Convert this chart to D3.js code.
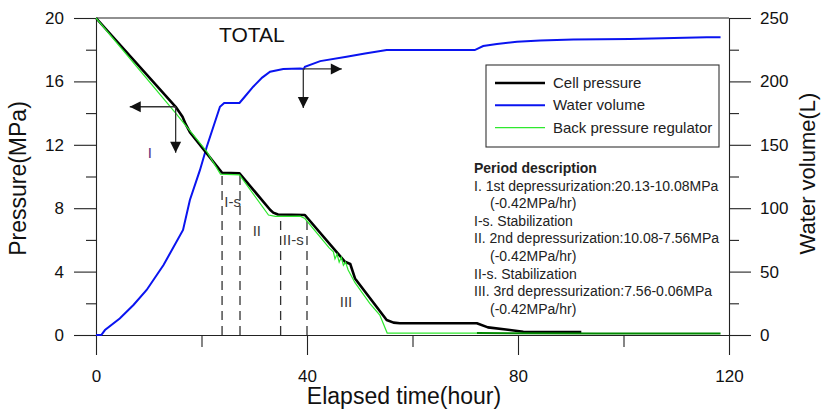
<!DOCTYPE html>
<html>
<head>
<meta charset="utf-8">
<script src="https://cdn.jsdelivr.net/npm/d3@7"></script>
<style>
  body { margin: 0; background: #fff; }
  svg { font-family: 'Liberation Sans', Arial, sans-serif; }
</style>
</head>
<body>
<svg class="chart"></svg>
<script>
//Chart data
const cellT = [0, 15.1, 16.4, 17.0, 17.8, 23.9, 27.2, 33.0, 33.6, 34.5, 39.6, 47.2, 48.2, 49.1, 55.1, 56.4, 57.6, 72.2, 74.3, 77.7, 81, 92];
const cellP = [20, 14.4, 13.77, 13.3, 12.8, 10.24, 10.2, 7.9, 7.72, 7.6, 7.57, 4.62, 4.48, 3.57, 0.95, 0.78, 0.74, 0.74, 0.48, 0.35, 0.2, 0.18];

const bprT = [0, 15.1, 21, 23.6, 27.2, 32.7, 34.0, 38.7, 39.6, 44.2, 45.0, 45.3, 45.7, 46.1, 46.5, 46.9, 47.3, 47.8, 49.1, 51.9, 53.8, 55.2, 72.2, 95, 118.4];
const bprP = [20, 14.0, 11.57, 10.15, 10.1, 7.57, 7.48, 7.5, 7.35, 5.5, 5.25, 4.8, 5.1, 4.6, 4.9, 4.4, 4.6, 4.1, 3.3, 2.0, 1.26, 0.12, 0.12, 0.1, 0.09];

const waterT = [0, 1.0, 1.7, 4.5, 7.1, 9.6, 12.8, 16.5, 17.8, 19.7, 21, 23.5, 24.3, 27.2, 28.2, 29.8, 31.5, 33, 35.5, 38.7, 39.4, 39.6, 42.5, 47.5, 51, 55.1, 71.8, 73.4, 76, 79.8, 84.2, 90.5, 101.2, 115.8, 118.4];
const waterV = [0, 0, 3.9, 13, 23.7, 35.5, 55.2, 82.8, 106.5, 130, 148.5, 180, 183, 183, 187.9, 195.8, 203, 207.6, 209.8, 210.2, 209.8, 211.6, 216, 219.4, 222, 224.7, 224.7, 227.9, 229.5, 231.3, 232.2, 233, 233.5, 234.8, 234.8];

//Ticks
const timeTicks = [0, 40, 80, 120];
const timeMinor = [20, 60, 100];
const pressureTicks = [0, 4, 8, 12, 16, 20];
const pressureMinor = [2, 6, 10, 14, 18];
const volumeTicks = [0, 50, 100, 150, 200, 250];
const volumeMinor = [25, 75, 125, 175, 225];

//Stage boundaries and labels
const stageBoundT = [23.9, 27.3, 35.0, 40.0];
const stageBoundP = [10.2, 10.2, 7.57, 7.57];
const stageLabels = ['I', 'I-s', 'II', 'II-s', 'III'];
const stageLabelT = [10.2, 25.9, 30.5, 37.4, 47.4];
const stageLabelP = [11.5, 8.4, 6.6, 6.05, 2.08];

const legendLabels = ['Cell pressure', 'Water volume', 'Back pressure regulator'];
const periodLines = [
  'Period description',
  'I. 1st depressurization:20.13-10.08MPa',
  '(-0.42MPa/hr)',
  'I-s. Stabilization',
  'II. 2nd depressurization:10.08-7.56MPa',
  '(-0.42MPa/hr)',
  'II-s. Stabilization',
  'III. 3rd depressurization:7.56-0.06MPa',
  '(-0.42MPa/hr)'
];

const width = 822;
const height = 412;
const axisColor = '#222';

const svg = d3.select('.chart').attr('width', width).attr('height', height);

//Scales
const x = d3.scaleLinear().domain([0, 120]).range([96, 729]);
const yP = d3.scaleLinear().domain([0, 20]).range([335, 18]);
const yV = d3.scaleLinear().domain([0, 250]).range([335, 18]);

//Axes
function styleAxis(g) {
  g.selectAll('path, line').attr('stroke', axisColor).attr('stroke-width', 1.1);
  g.selectAll('text').attr('fill', '#111').style('font-size', '17px').style('font-family', 'Liberation Sans, Arial, sans-serif');
}

svg.append('g')
  .attr('transform', 'translate(96,0)')
  .call(d3.axisLeft(yP).tickValues(pressureTicks).tickSize(22).tickSizeOuter(0).tickPadding(10))
  .call(styleAxis);
svg.append('g')
  .attr('transform', 'translate(96,0)')
  .call(d3.axisLeft(yP).tickValues(pressureMinor).tickSize(10).tickFormat(''))
  .call(g => g.select('.domain').remove())
  .call(styleAxis);

svg.append('g')
  .attr('transform', 'translate(729,0)')
  .call(d3.axisRight(yV).tickValues(volumeTicks).tickSize(22).tickSizeOuter(0).tickPadding(9))
  .call(styleAxis);
svg.append('g')
  .attr('transform', 'translate(729,0)')
  .call(d3.axisRight(yV).tickValues(volumeMinor).tickSize(10).tickFormat(''))
  .call(g => g.select('.domain').remove())
  .call(styleAxis);

svg.append('g')
  .attr('transform', 'translate(0,335)')
  .call(d3.axisBottom(x).tickValues(timeTicks).tickSize(20).tickSizeOuter(0).tickPadding(15))
  .call(styleAxis);
svg.append('g')
  .attr('transform', 'translate(0,335)')
  .call(d3.axisBottom(x).tickValues(timeMinor).tickSize(12).tickFormat(''))
  .call(g => g.select('.domain').remove())
  .call(styleAxis);

//Top frame line
svg.append('line')
  .attr('x1', x(0)).attr('x2', x(120))
  .attr('y1', yP(20)).attr('y2', yP(20))
  .attr('stroke', axisColor).attr('stroke-width', 1.1);

//Axis titles
svg.append('text')
  .attr('transform', `translate(26,${(yP(0) + yP(20)) / 2 + 2}) rotate(-90)`)
  .attr('text-anchor', 'middle')
  .style('font-size', '23px')
  .attr('fill', '#111')
  .text('Pressure(MPa)');
svg.append('text')
  .attr('transform', `translate(815,${(yV(0) + yV(250)) / 2 - 3}) rotate(-90)`)
  .attr('text-anchor', 'middle')
  .style('font-size', '22px')
  .attr('fill', '#111')
  .text('Water volume(L)');
svg.append('text')
  .attr('x', 404).attr('y', 404)
  .attr('text-anchor', 'middle')
  .style('font-size', '23px')
  .attr('fill', '#111')
  .text('Elapsed time(hour)');

svg.append('text')
  .attr('x', 219).attr('y', 42)
  .style('font-size', '21px')
  .attr('fill', '#111')
  .text('TOTAL');

//Stage boundaries
svg.selectAll('.bound')
  .data(stageBoundT)
  .enter()
  .append('line')
  .attr('class', 'bound')
  .attr('x1', d => x(d)).attr('x2', d => x(d))
  .attr('y1', yP(0))
  .attr('y2', (d, i) => yP(stageBoundP[i]))
  .attr('stroke', '#333')
  .attr('stroke-width', 1.3)
  .attr('stroke-dasharray', '9,6');

svg.selectAll('.stage')
  .data(stageLabels)
  .enter()
  .append('text')
  .attr('class', 'stage')
  .attr('x', (d, i) => x(stageLabelT[i]))
  .attr('y', (d, i) => yP(stageLabelP[i]))
  .attr('dy', '0.36em')
  .attr('text-anchor', 'middle')
  .style('font-size', '15px')
  .attr('fill', (d, i) => i === 0 ? '#5b2d82' : '#3a3a3a')
  .text(d => d);

//Series
const cellData = cellT.map((t, i) => [t, cellP[i]]);
const bprData = bprT.map((t, i) => [t, bprP[i]]);
const waterData = waterT.map((t, i) => [t, waterV[i]]);

const lineP = d3.line().x(d => x(d[0])).y(d => yP(d[1]));
const lineV = d3.line().x(d => x(d[0])).y(d => yV(d[1]));

svg.append('path')
  .datum(waterData)
  .attr('d', lineV)
  .attr('fill', 'none')
  .attr('stroke', '#0a14f0')
  .attr('stroke-width', 2);

svg.append('path')
  .datum(cellData)
  .attr('d', lineP)
  .attr('fill', 'none')
  .attr('stroke', '#000')
  .attr('stroke-width', 2.6)
  .attr('stroke-linejoin', 'round');

//BPR: light green while active, darker once settled at the end
svg.append('path')
  .datum(bprData.filter(d => d[0] <= 72.2))
  .attr('d', lineP)
  .attr('fill', 'none')
  .attr('stroke', '#2ee82e')
  .attr('stroke-width', 1.2);
svg.append('path')
  .datum(bprData.filter(d => d[0] >= 72.2))
  .attr('d', lineP)
  .attr('fill', 'none')
  .attr('stroke', '#008a00')
  .attr('stroke-width', 2);

//Arrows pointing to axis for each series
function arrowHead(px, py, dir) {
  const L = 11, W = 5.5;
  let pts;
  if (dir === 'left') pts = [[px, py], [px + L, py - W], [px + L, py + W]];
  if (dir === 'right') pts = [[px, py], [px - L, py - W], [px - L, py + W]];
  if (dir === 'down') pts = [[px, py], [px - W, py - L], [px + W, py - L]];
  svg.append('polygon')
    .attr('points', pts.map(p => p.join(',')).join(' '))
    .attr('fill', '#111');
}
function drawArrow(cx, cy, hx, vy, hdir) {
  svg.append('line')
    .attr('x1', cx).attr('y1', cy).attr('x2', hx).attr('y2', cy)
    .attr('stroke', '#333').attr('stroke-width', 1.3);
  svg.append('line')
    .attr('x1', cx).attr('y1', cy).attr('x2', cx).attr('y2', vy)
    .attr('stroke', '#333').attr('stroke-width', 1.3);
  arrowHead(hx, cy, hdir);
  arrowHead(cx, vy, 'down');
}
drawArrow(x(15.1), yP(14.4), x(6.4), yP(11.5), 'left');
drawArrow(x(39.3), yV(209.8), x(46.6), yV(179), 'right');

//Legend
const legend = svg.append('g').attr('transform', 'translate(486,65)');
legend.append('rect')
  .attr('width', 233).attr('height', 82)
  .attr('fill', '#fff')
  .attr('stroke', '#333').attr('stroke-width', 1.1);
const legendColors = ['#000', '#0a14f0', '#2ee82e'];
const legendWidths = [2.6, 2, 1.2];
legendLabels.forEach((label, i) => {
  const ly = 18 + i * 22.3;
  legend.append('line')
    .attr('x1', 9).attr('x2', 59).attr('y1', ly).attr('y2', ly)
    .attr('stroke', legendColors[i]).attr('stroke-width', legendWidths[i]);
  legend.append('text')
    .attr('x', 67).attr('y', ly + 5)
    .style('font-size', '15px')
    .attr('fill', '#222')
    .text(label);
});

//Period description
svg.selectAll('.period')
  .data(periodLines)
  .enter()
  .append('text')
  .attr('class', 'period')
  .attr('x', d => d.startsWith('(') ? 490 : 474)
  .attr('y', (d, i) => 173 + i * 17.6)
  .style('font-size', '14px')
  .style('font-weight', (d, i) => i === 0 ? 'bold' : 'normal')
  .attr('fill', '#222')
  .text(d => d);
</script>
</body>
</html>
